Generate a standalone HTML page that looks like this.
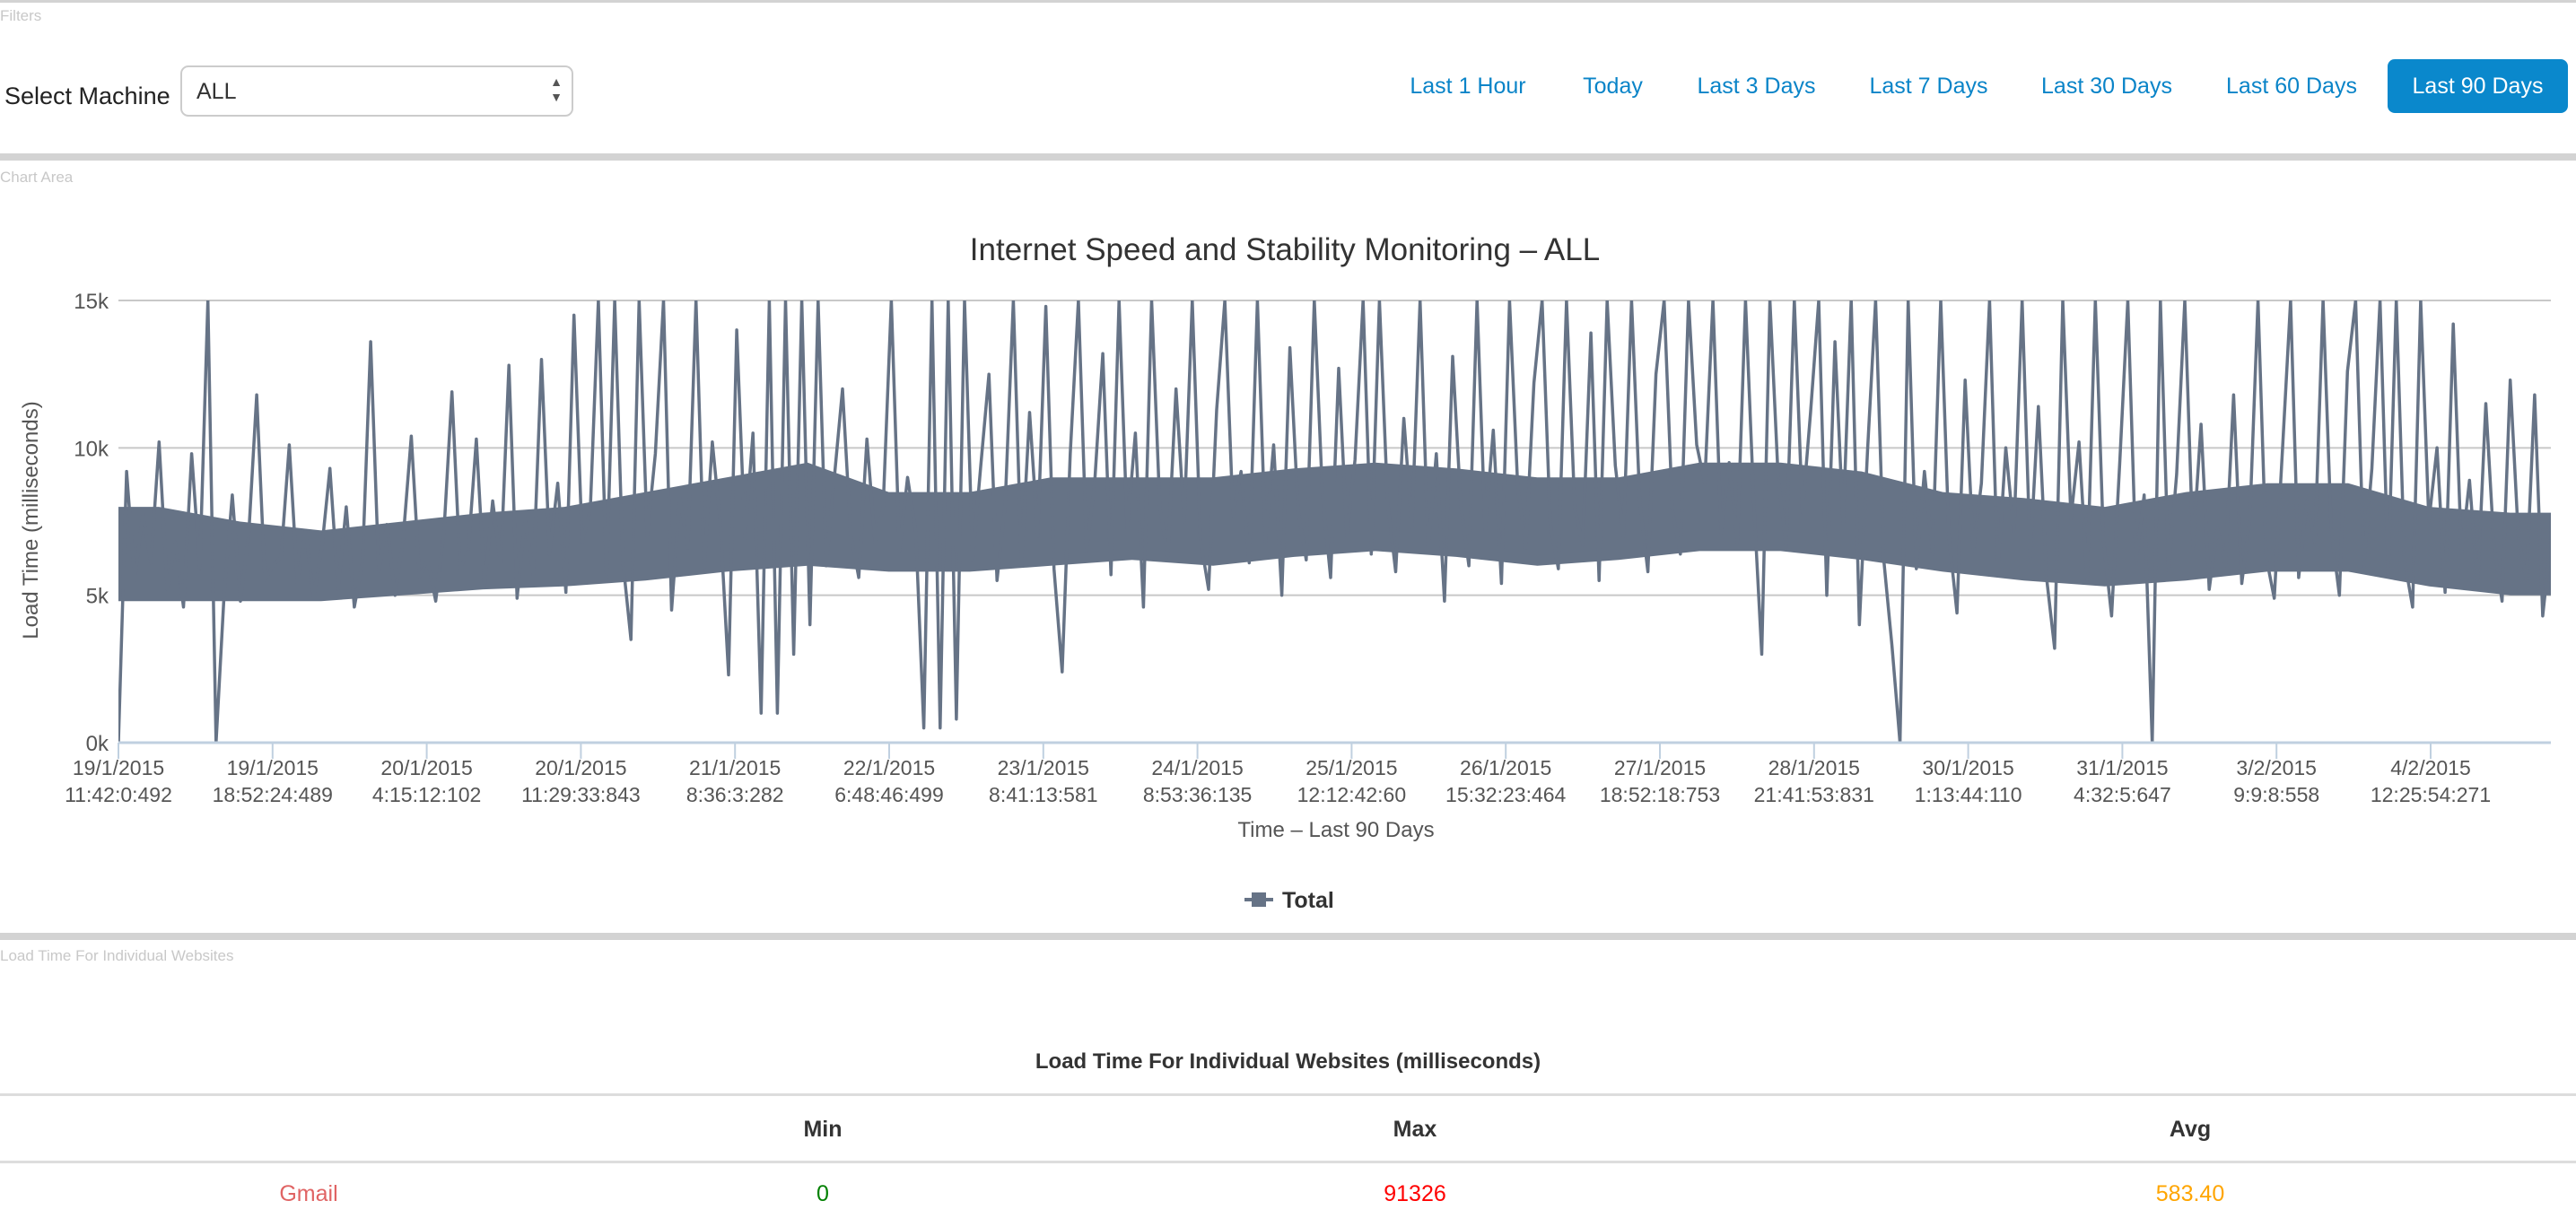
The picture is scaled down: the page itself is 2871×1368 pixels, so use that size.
<!DOCTYPE html>
<html><head><meta charset="utf-8">
<style>
body{margin:0;width:2871px;height:1368px;overflow:hidden;background:#fff;font-family:"Liberation Sans",sans-serif;position:relative}
.abs{position:absolute}
.sep{position:absolute;left:0;width:2871px;height:8px;background:#d3d3d3}
.sec{color:#c8c8c8;font-size:17px}
.btn{position:absolute;top:66px;height:60px;line-height:60px;color:#0a84c8;font-size:25px;text-align:center;border-radius:8px}
</style></head><body>
<div class="abs" style="left:0;top:0;width:2871px;height:3px;background:#d3d3d3"></div>
<div class="abs sec" style="left:0;top:8px">Filters</div>
<div class="abs" style="left:5px;top:92px;font-size:27px;color:#222">Select Machine</div>
<div class="abs" style="left:201px;top:73px;width:438px;height:57px;border:2px solid #ccc;border-radius:9px;box-sizing:border-box">
<span style="position:absolute;left:16px;top:13px;font-size:25px;color:#333">ALL</span>
<span style="position:absolute;right:10px;top:8px;font-size:14px;line-height:17px;color:#555">▲<br>▼</span>
</div>
<div class="btn" style="left:1556px;width:160px">Last 1 Hour</div>
<div class="btn" style="left:1745px;width:105px">Today</div>
<div class="btn" style="left:1875px;width:165px">Last 3 Days</div>
<div class="btn" style="left:2067px;width:165px">Last 7 Days</div>
<div class="btn" style="left:2258px;width:180px">Last 30 Days</div>
<div class="btn" style="left:2464px;width:180px">Last 60 Days</div>
<div class="btn" style="left:2661px;width:201px;background:#0a88cc;color:#fff">Last 90 Days</div>
<div class="sep" style="top:171px"></div>
<div class="abs sec" style="left:0;top:188px">Chart Area</div>

<svg id="chart" class="abs" style="left:0;top:0" width="2871" height="1368"></svg>

<div class="sep" style="top:1040px"></div>
<div class="abs sec" style="left:0;top:1056px">Load Time For Individual Websites</div>
<div class="abs" style="left:0;width:2871px;top:1170px;text-align:center;font-size:24px;font-weight:bold;color:#333">Load Time For Individual Websites (milliseconds)</div>
<div class="abs" style="left:0;top:1219px;width:2871px;height:3px;background:#ddd"></div>
<div class="abs" style="left:817px;width:200px;top:1245px;text-align:center;font-size:25px;font-weight:bold;color:#333">Min</div>
<div class="abs" style="left:1477px;width:200px;top:1245px;text-align:center;font-size:25px;font-weight:bold;color:#333">Max</div>
<div class="abs" style="left:2341px;width:200px;top:1245px;text-align:center;font-size:25px;font-weight:bold;color:#333">Avg</div>
<div class="abs" style="left:0;top:1294px;width:2871px;height:3px;background:#ddd"></div>
<div class="abs" style="left:244px;width:200px;top:1317px;text-align:center;font-size:25px;color:#e06464">Gmail</div>
<div class="abs" style="left:817px;width:200px;top:1317px;text-align:center;font-size:25px;color:#008000">0</div>
<div class="abs" style="left:1477px;width:200px;top:1317px;text-align:center;font-size:25px;color:#ff0000">91326</div>
<div class="abs" style="left:2341px;width:200px;top:1317px;text-align:center;font-size:25px;color:#ffa500">583.40</div>

<script>
const yTicks=[0,5,10,15];
const yTickLabels=["0k","5k","10k","15k"];
const xTickDates=["19/1/2015","19/1/2015","20/1/2015","20/1/2015","21/1/2015","22/1/2015","23/1/2015","24/1/2015","25/1/2015","26/1/2015","27/1/2015","28/1/2015","30/1/2015","31/1/2015","3/2/2015","4/2/2015"];
const xTickTimes=["11:42:0:492","18:52:24:489","4:15:12:102","11:29:33:843","8:36:3:282","6:48:46:499","8:41:13:581","8:53:36:135","12:12:42:60","15:32:23:464","18:52:18:753","21:41:53:831","1:13:44:110","4:32:5:647","9:9:8:558","12:25:54:271"];
const totalValues=[
0,9.2,5.5,7.8,6.1,10.2,5.2,6.8,4.6,9.8,5.9,15,0,5.1,8.4,4.8,7.0,11.8,5.5,6.0,
6.3,10.1,5.4,7.2,4.9,6.6,9.3,5.2,8.0,4.6,6.1,13.6,5.8,7.4,5.0,6.9,10.4,5.6,6.2,4.8,
7.1,11.9,5.9,6.5,10.3,5.3,8.2,6.0,12.8,4.9,7.6,5.7,13.0,6.4,8.8,5.1,14.5,6.8,7.9,15,
5.5,15,6.2,3.5,15,7.0,9.8,15,4.5,8.3,6.6,15,5.9,10.2,7.4,2.3,14.0,6.9,10.5,1.0,
15,1,15,3,15,4,15,6,9,12,7.1,5.6,10.3,6.8,8.0,15,6.5,9.0,7.2,0.5,
15,0.5,15,0.8,15,6.2,9.4,12.5,5.5,8.1,15,6.0,11.2,7.0,14.8,5.9,2.4,9.8,15,6.5,
8.8,13.2,5.7,15,7.2,10.5,4.6,15,8.0,6.3,12.0,7.5,15,6.9,5.2,11.3,15,7.7,9.2,6.1,
15,6.8,10.1,5.0,13.4,7.9,6.2,15,8.4,5.6,12.7,7.0,9.6,15,6.4,15,8.2,5.8,11.0,7.3,
15,6.5,9.8,4.8,13.1,8.1,6.0,15,7.2,10.6,5.4,15,8.7,6.6,12.2,15,7.4,5.9,15,8.0,
6.7,13.9,5.5,15,9.4,7.0,15,8.2,5.8,12.5,15,7.9,6.4,15,10.1,8.8,15,7.1,9.5,6.8,
15,8.3,3.0,15,9.1,6.6,15,7.8,11.2,15,5.0,13.6,7.4,15,4.0,9.9,15,6.2,3.3,0,
15,5.9,9.2,6.4,15,7.0,4.4,12.3,6.5,8.8,15,5.7,10.0,7.1,15,6.3,11.4,5.6,3.2,15,
7.6,10.2,5.5,15,6.9,4.3,9.5,15,6.1,8.4,0,15,5.8,9.1,15,6.6,10.8,5.2,7.3,6.0,
11.8,5.4,7.6,15,6.3,4.9,9.9,15,5.6,8.2,6.8,15,7.2,5.0,12.6,15,6.0,9.3,15,5.7,
15,6.2,4.6,15,7.5,10.0,5.1,14.2,6.4,8.9,5.3,11.5,6.7,4.8,12.3,7.0,5.5,11.8,4.3,6.9];
const bandLow=[4.8,4.8,4.8,5.0,5.2,5.3,5.5,5.8,6.0,5.8,5.8,6.0,6.2,6.0,6.3,6.5,6.3,6.0,6.2,6.5,6.5,6.2,5.8,5.5,5.3,5.5,5.8,5.8,5.3,5.0];
const bandHigh=[8.0,7.5,7.2,7.5,7.8,8.0,8.5,9.0,9.5,8.5,8.5,9.0,9.0,9.0,9.3,9.5,9.3,9.0,9.0,9.5,9.5,9.2,8.5,8.3,8.0,8.5,8.8,8.8,8.0,7.8];

const svg=document.getElementById('chart');
const NS='http://www.w3.org/2000/svg';
const L=132,R=2843,T=335,B=828,YMAX=15;
const yS=v=>B-(Math.min(v,YMAX)/YMAX)*(B-T);
const xIdx=i=>L+i*(R-L)/(totalValues.length-1);
const xBand=i=>L+(i+0.5)*(R-L)/bandLow.length;
const xTick=i=>L+i*171.8;
function mk(tag,attrs,text){const e=document.createElementNS(NS,tag);for(const k in attrs)e.setAttribute(k,attrs[k]);if(text!==undefined)e.textContent=text;svg.appendChild(e);return e;}

let t=mk('text',{x:1432,y:290,'text-anchor':'middle','font-size':35,fill:'#333','font-family':'Liberation Sans'},'Internet Speed and Stability Monitoring – ALL');



yTicks.forEach((v,i)=>{
  if(v>0){const g=mk('line',{x1:L,x2:R,y1:yS(v),y2:yS(v),stroke:'#c8c8c8','stroke-width':2});
  
  }
  const lb=mk('text',{x:121,y:yS(v)+9,'text-anchor':'end','font-size':24,fill:'#555','font-family':'Liberation Sans'},yTickLabels[i]);
  
  
});
let yt=mk('text',{x:0,y:0,transform:'translate(42,580) rotate(-90)','text-anchor':'middle','font-size':24,fill:'#555','font-family':'Liberation Sans'},'Load Time (milliseconds)');



const defs=mk('defs',{});
const cp=document.createElementNS(NS,'clipPath');cp.setAttribute('id','plotclip');
const cr=document.createElementNS(NS,'rect');cr.setAttribute('x',L);cr.setAttribute('y',T);cr.setAttribute('width',R-L);cr.setAttribute('height',B-T);
cp.appendChild(cr);defs.appendChild(cp);

const bandTopPts=bandHigh.map((v,i)=>xBand(i).toFixed(1)+','+yS(v).toFixed(1));
const bandBotPts=bandLow.map((v,i)=>xBand(i).toFixed(1)+','+yS(v).toFixed(1)).reverse();
const bandStart=[L+','+yS(bandHigh[0]).toFixed(1)];
const bandEnd=[R+','+yS(bandHigh[bandHigh.length-1]).toFixed(1),R+','+yS(bandLow[bandLow.length-1]).toFixed(1)];
const band=mk('polygon',{points:bandStart.concat(bandTopPts,bandEnd,bandBotPts,[L+','+yS(bandLow[0]).toFixed(1)]).join(' '),fill:'#667386','clip-path':'url(#plotclip)'});



const pts=totalValues.map((v,i)=>xIdx(i).toFixed(1)+','+yS(v).toFixed(1)).join(' ');
const line=mk('polyline',{points:pts,fill:'none',stroke:'#667386','stroke-width':3.5,'stroke-linejoin':'round','clip-path':'url(#plotclip)'});



const ax=mk('line',{x1:L,x2:R,y1:B,y2:B,stroke:'#c0d0e0','stroke-width':3});


xTickDates.forEach((d,i)=>{
  const x=xTick(i);
  const tk=mk('line',{x1:x,x2:x,y1:B,y2:B+18,stroke:'#c0d0e0','stroke-width':2});
  
  
  const l1=mk('text',{x:x,y:864,'text-anchor':'middle','font-size':23,fill:'#555','font-family':'Liberation Sans'},d);
  
  
  const l2=mk('text',{x:x,y:894,'text-anchor':'middle','font-size':23,fill:'#555','font-family':'Liberation Sans'},xTickTimes[i]);
  
  
});
let xt=mk('text',{x:1489,y:933,'text-anchor':'middle','font-size':24,fill:'#555','font-family':'Liberation Sans'},'Time – Last 90 Days');



const lg=mk('g',{});


const ll=document.createElementNS(NS,'line');ll.setAttribute('x1',1387);ll.setAttribute('x2',1419);ll.setAttribute('y1',1003);ll.setAttribute('y2',1003);ll.setAttribute('stroke','#667386');ll.setAttribute('stroke-width',4);lg.appendChild(ll);
const lr=document.createElementNS(NS,'rect');lr.setAttribute('x',1395);lr.setAttribute('y',995);lr.setAttribute('width',16);lr.setAttribute('height',16);lr.setAttribute('fill','#667386');lg.appendChild(lr);
const lt=document.createElementNS(NS,'text');lt.setAttribute('x',1429);lt.setAttribute('y',1012);lt.setAttribute('font-size',25);lt.setAttribute('font-weight','bold');lt.setAttribute('fill','#333');lt.setAttribute('font-family','Liberation Sans');lt.textContent='Total';lg.appendChild(lt);
</script>
</body></html>
